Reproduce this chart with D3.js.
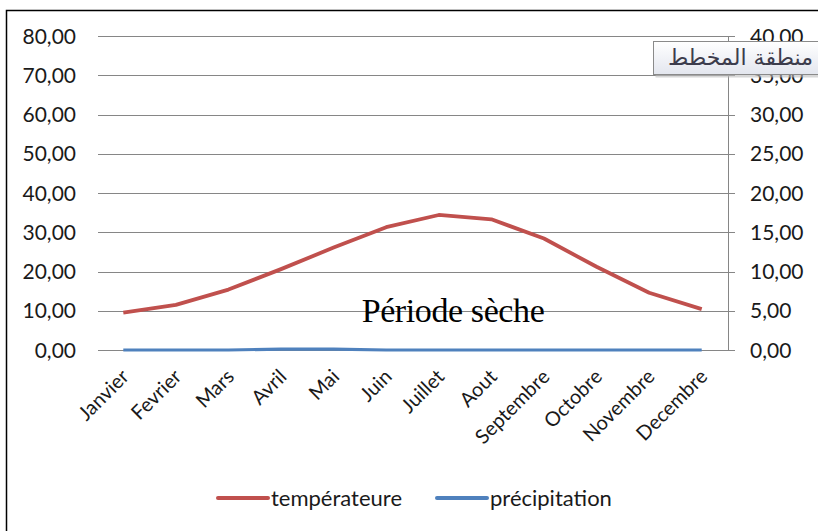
<!doctype html>
<html>
<head>
<meta charset="UTF-8">
<title>Période sèche</title>
<script src="https://d3js.org/d3.v7.min.js"></script>
<style>
	body {
		margin: 0;
		background: #fff;
	}
	.chart text {
		font-family: Lato, "Open Sans", sans-serif;
		fill: #1a1a1a;
	}
	.grid line {
		stroke: #868686;
		stroke-width: 1;
	}
</style>
</head>

<body>
	<svg class="chart" width="818" height="531"></svg>
<script>
var months = ['Janvier', 'Fevrier', 'Mars', 'Avril', 'Mai', 'Juin', 'Juillet', 'Aout', 'Septembre', 'Octobre', 'Novembre', 'Decembre'];
var temperature = [9.5, 11.5, 15.4, 20.6, 26.1, 31.3, 34.4, 33.3, 28.4, 21.2, 14.6, 10.4];
var precipitation = [0, 0, 0, 0.12, 0.12, 0, 0, 0, 0, 0, 0, 0];
var leftTicks = [0, 10, 20, 30, 40, 50, 60, 70, 80];
var rightTicks = [0, 5, 10, 15, 20, 25, 30, 35, 40];
var seriesNames = ['températeure', 'précipitation'];
var seriesColors = ['#c0504d', '#4f81bd'];

var chart = d3.select('.chart');
var plot = {left: 97, right: 728, top: 36, bottom: 350};

var x = d3.scaleBand()
	.domain(months)
	.range([plot.left, plot.right]);
var yLeft = d3.scaleLinear()
	.domain([0, 80])
	.range([plot.bottom, plot.top]);
var yRight = d3.scaleLinear()
	.domain([0, 40])
	.range([plot.bottom, plot.top]);

function fmt(v) {
	return v.toFixed(2).replace('.', ',');
}

// outer frame
chart.append('rect')
	.attr('x', 6.5)
	.attr('y', 10.5)
	.attr('width', 840)
	.attr('height', 560)
	.attr('fill', 'none')
	.attr('stroke', '#000')
	.attr('stroke-width', 1.5);

// gridlines
chart.append('g')
	.attr('class', 'grid')
	.selectAll('line')
	.data(leftTicks)
	.enter().append('line')
	.attr('x1', plot.left + 1)
	.attr('x2', plot.right + 7)
	.attr('y1', function(d) { return Math.round(yLeft(d)) + 0.5; })
	.attr('y2', function(d) { return Math.round(yLeft(d)) + 0.5; });

// right axis line
chart.append('line')
	.attr('x1', plot.right + 0.5)
	.attr('x2', plot.right + 0.5)
	.attr('y1', plot.top)
	.attr('y2', plot.bottom + 1)
	.attr('stroke', '#868686');

// left tick labels
chart.append('g')
	.selectAll('text')
	.data(leftTicks)
	.enter().append('text')
	.attr('x', 76)
	.attr('y', function(d) { return yLeft(d); })
	.attr('dy', '0.36em')
	.attr('text-anchor', 'end')
	.style('font-size', '21px')
	.text(fmt);

// right tick labels
chart.append('g')
	.selectAll('text')
	.data(rightTicks)
	.enter().append('text')
	.attr('x', 750)
	.attr('y', function(d) { return yRight(d); })
	.attr('dy', '0.36em')
	.style('font-size', '21px')
	.text(fmt);

// x labels
chart.append('g')
	.selectAll('text')
	.data(months)
	.enter().append('text')
	.attr('transform', function(d) {
		return 'translate(' + (x(d) + x.bandwidth() / 2 - 3) + ',' + 368 + ') rotate(-45)';
	})
	.attr('text-anchor', 'end')
	.attr('dy', '0.7em')
	.style('font-size', '20px')
	.text(function(d) { return d; });

// lines
var tempLine = d3.line()
	.x(function(d, i) { return x(months[i]) + x.bandwidth() / 2; })
	.y(function(d) { return yLeft(d); });
var precLine = d3.line()
	.x(function(d, i) { return x(months[i]) + x.bandwidth() / 2; })
	.y(function(d) { return yRight(d); });

chart.append('path')
	.datum(precipitation)
	.attr('d', precLine)
	.attr('fill', 'none')
	.attr('stroke', seriesColors[1])
	.attr('stroke-width', 3.2);

chart.append('path')
	.datum(temperature)
	.attr('d', tempLine)
	.attr('fill', 'none')
	.attr('stroke', seriesColors[0])
	.attr('stroke-width', 3.8)
	.attr('stroke-linejoin', 'round');

// annotation
chart.append('text')
	.attr('x', 453)
	.attr('y', 322)
	.attr('text-anchor', 'middle')
	.style('font-family', '"Liberation Serif", "Times New Roman", serif')
	.style('font-size', '34px')
	.style('letter-spacing', '-0.4px')
	.style('fill', '#000')
	.text('Période sèche');

// legend
var legend = chart.append('g');
var legendX = [218, 437];
seriesNames.forEach(function(name, i) {
	legend.append('line')
		.attr('x1', legendX[i])
		.attr('x2', legendX[i] + 50)
		.attr('y1', 498)
		.attr('y2', 498)
		.attr('stroke', seriesColors[i])
		.attr('stroke-width', 4)
		.attr('stroke-linecap', 'round');
	legend.append('text')
		.attr('x', legendX[i] + 53)
		.attr('y', 498)
		.attr('dy', '0.36em')
		.style('font-size', '22px')
		.text(name);
});

// tooltip box over the plot area
var tip = chart.append('g');
var grad = chart.append('defs').append('linearGradient')
	.attr('id', 'tipgrad')
	.attr('x1', 0).attr('x2', 0).attr('y1', 0).attr('y2', 1);
grad.append('stop').attr('offset', '0%').attr('stop-color', '#ffffff');
grad.append('stop').attr('offset', '100%').attr('stop-color', '#e3e6ee');
tip.append('rect')
	.attr('x', 655.5)
	.attr('y', 44.5)
	.attr('width', 200)
	.attr('height', 33)
	.attr('fill', '#bdbdbd')
	.attr('opacity', 0.6);
tip.append('rect')
	.attr('x', 653.5)
	.attr('y', 41.5)
	.attr('width', 200)
	.attr('height', 33)
	.attr('fill', 'url(#tipgrad)')
	.attr('stroke', '#8a8a8a');
tip.append('text')
	.attr('x', 813)
	.attr('y', 57)
	.attr('dy', '0.36em')
	.attr('text-anchor', 'end')
	.style('font-family', '"DejaVu Sans", sans-serif')
	.style('font-size', '22px')
	.style('fill', '#3c3c4c')
	.text('منطقة المخطط');
</script>
</body>
</html>
